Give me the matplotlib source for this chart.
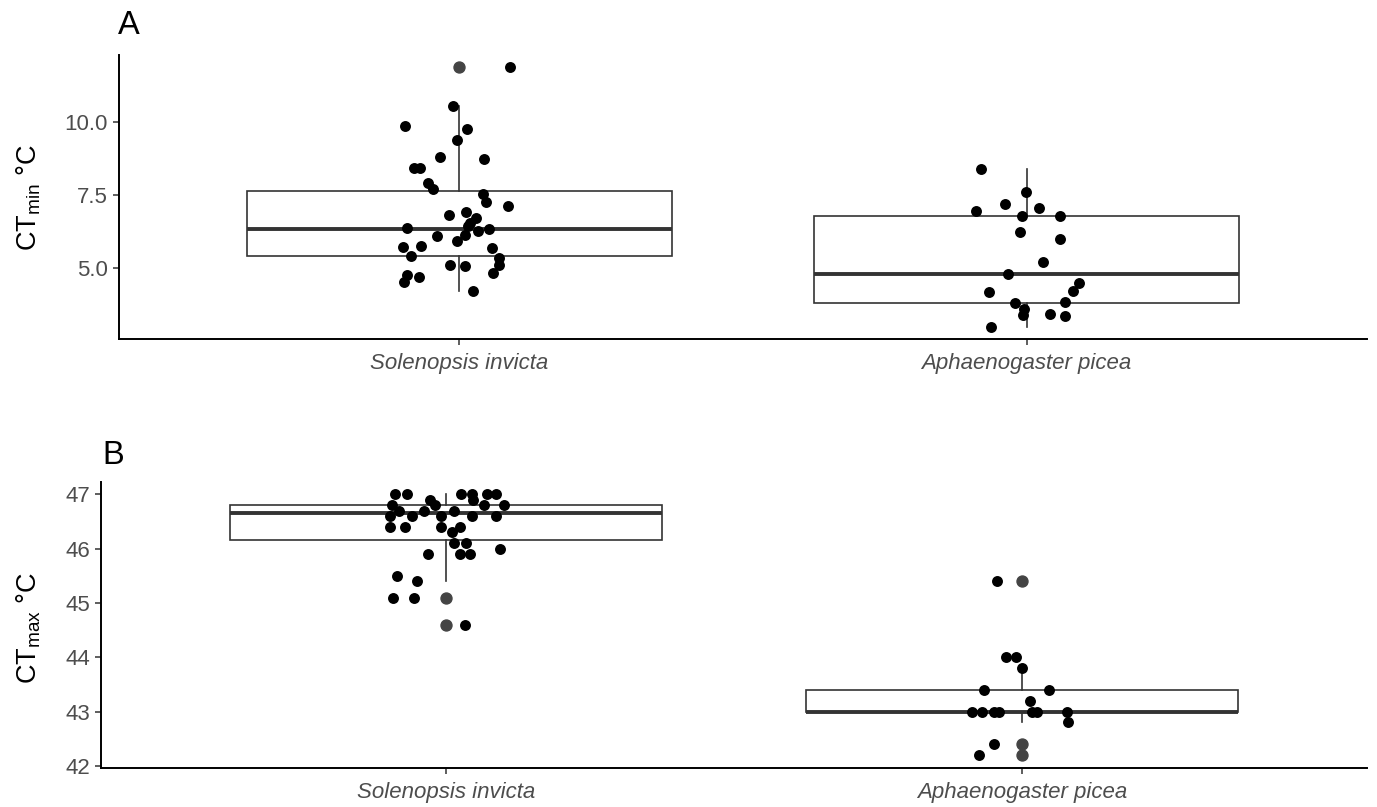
import matplotlib
matplotlib.use("Agg")
import matplotlib.pyplot as plt
import numpy as np

plt.rcParams["font.family"] = ["Liberation Sans", "DejaVu Sans"]
plt.rcParams["mathtext.default"] = "regular"

species = ["Solenopsis invicta", "Aphaenogaster picea"]

# ---- panel A: CTmin (deg C), jittered points (x offset from category, value)
ctmin_si = [11.87, 10.54, 9.86, 9.74, 9.37, 8.78, 8.73, 8.40, 8.40, 7.91, 7.70,
            7.52, 7.26, 7.13, 6.81, 6.90, 6.70, 6.53, 6.43, 6.38, 6.33, 6.26,
            6.13, 6.09, 5.92, 5.73, 5.76, 5.41, 5.67, 5.35, 5.10, 5.10, 5.08,
            4.82, 4.78, 4.70, 4.53, 4.21]
ctmin_si_jit = [0.089, -0.011, -0.096, 0.013, -0.005, -0.035, 0.044, -0.080, -0.069,
                -0.055, -0.047, 0.041, 0.047, 0.085, -0.018, 0.012, 0.029, 0.019,
                0.016, -0.092, 0.053, 0.032, 0.010, -0.039, -0.005, -0.100, -0.068,
                -0.086, 0.057, 0.069, 0.069, -0.016, 0.010, 0.060, -0.093, -0.072,
                -0.097, 0.024]
ctmin_ap = [8.38, 7.60, 7.17, 6.96, 7.06, 6.78, 6.77, 6.24, 5.99, 5.22, 4.79,
            4.48, 4.21, 4.17, 3.80, 3.83, 3.60, 3.40, 3.42, 3.38, 3.00]
ctmin_ap_jit = [-0.080, -0.001, -0.039, -0.090, 0.021, -0.008, 0.059, -0.012, 0.058,
                0.028, -0.033, 0.093, 0.081, -0.066, -0.020, 0.068, -0.004, -0.006,
                0.041, 0.068, -0.063]

# box summary: q1, median, q3, lower whisker, upper whisker, outliers
ctmin_box_si = [5.40, 6.35, 7.64, 4.21, 10.54, [11.87]]
ctmin_box_ap = [3.82, 4.80, 6.78, 3.00, 8.38, []]

# ---- panel B: CTmax (deg C)
ctmax_si = [47.0, 47.0, 47.0, 47.0, 47.0, 47.0, 46.9, 46.9, 46.8, 46.8, 46.8,
            46.7, 46.7, 46.7, 46.8, 46.6, 46.6, 46.6, 46.6, 46.6, 46.4, 46.4,
            46.4, 46.4, 46.3, 46.1, 46.1, 46.0, 45.9, 45.9, 45.9, 45.5, 45.4,
            45.1, 45.1, 44.6]
ctmax_si_jit = [-0.089, -0.069, 0.026, 0.045, 0.071, 0.087, -0.029, 0.047, -0.094,
                -0.019, 0.100, -0.083, -0.039, 0.013, 0.065, -0.097, -0.060, -0.010,
                0.045, 0.087, -0.098, -0.071, -0.010, 0.024, 0.010, 0.013, 0.035,
                0.094, -0.031, 0.023, 0.042, -0.085, -0.050, -0.092, -0.056, 0.033]
ctmax_ap = [45.4, 44.0, 44.0, 43.8, 43.4, 43.4, 43.2, 43.0, 43.0, 43.0, 43.0,
            43.0, 43.0, 43.0, 42.8, 42.4, 42.2]
ctmax_ap_jit = [-0.043, -0.027, -0.010, 0.000, -0.065, 0.048, 0.014, -0.087, -0.069,
                -0.049, -0.039, 0.017, 0.027, 0.079, 0.081, -0.049, -0.075]

ctmax_box_si = [46.17, 46.66, 46.80, 45.4, 47.0, [45.1, 44.6]]
ctmax_box_ap = [43.0, 43.0, 43.4, 42.8, 43.8, [45.4, 42.4, 42.2]]


def box_stats(b):
    q1, med, q3, lo, hi, fl = b
    return dict(q1=q1, med=med, q3=q3, whislo=lo, whishi=hi, fliers=fl)


def draw_panel(ax, boxes, pts, jits, ylim, yticks, yticklabels):
    ax.bxp([box_stats(b) for b in boxes], positions=[1, 2], widths=0.75,
           patch_artist=True, showfliers=True, showcaps=False,
           boxprops=dict(facecolor="white", edgecolor="#333333", linewidth=1.2),
           whiskerprops=dict(color="#333333", linewidth=1.2),
           medianprops=dict(color="#333333", linewidth=2.8),
           flierprops=dict(marker="o", markerfacecolor="#444444",
                           markeredgecolor="#444444", markersize=7.9),
           zorder=1)
    for i, (vals, jit) in enumerate(zip(pts, jits)):
        xs = np.array(jit) + (i + 1)
        ax.scatter(xs, vals, s=62, color="black", linewidths=0, zorder=3)

    ax.set_xlim(0.4, 2.6)
    ax.set_ylim(*ylim)
    ax.set_xticks([1, 2])
    ax.set_xticklabels(species, fontstyle="italic", fontsize=16, color="#4d4d4d")
    ax.set_yticks(yticks)
    ax.set_yticklabels(yticklabels, fontsize=16, color="#4d4d4d")
    ax.tick_params(length=4, width=1.1, color="#333333", pad=4)
    ax.tick_params(axis="x", pad=6)
    for side in ["top", "right"]:
        ax.spines[side].set_visible(False)
    for side in ["left", "bottom"]:
        ax.spines[side].set_linewidth(1.4)
        ax.spines[side].set_color("black")


W, H = 1377, 807
fig = plt.figure(figsize=(W / 100, H / 100), dpi=100)

axA = fig.add_axes([119 / W, 1 - 339 / H, (1367 - 119) / W, (339 - 55) / H])
draw_panel(axA, [ctmin_box_si, ctmin_box_ap], [ctmin_si, ctmin_ap],
           [ctmin_si_jit, ctmin_ap_jit], (2.58, 12.27),
           [5.0, 7.5, 10.0], ["5.0", "7.5", "10.0"])

axB = fig.add_axes([101 / W, 1 - 768 / H, (1367 - 101) / W, (768 - 482) / H])
draw_panel(axB, [ctmax_box_si, ctmax_box_ap], [ctmax_si, ctmax_ap],
           [ctmax_si_jit, ctmax_ap_jit], (41.96, 47.23),
           [42, 43, 44, 45, 46, 47], ["42", "43", "44", "45", "46", "47"])

# axis titles and panel tags
fig.text(29 / W, 1 - 198 / H, r"CT$_{min}$ °C", rotation=90, ha="center",
         va="center", fontsize=19.5, color="black")
fig.text(29 / W, 1 - 628 / H, r"CT$_{max}$ °C", rotation=90, ha="center",
         va="center", fontsize=19.5, color="black")
fig.text(129 / W, 1 - 25 / H, "A", ha="center", va="center", fontsize=23.5)
fig.text(113 / W, 1 - 455 / H, "B", ha="center", va="center", fontsize=23.5)

fig.savefig("out.png", dpi=100)
